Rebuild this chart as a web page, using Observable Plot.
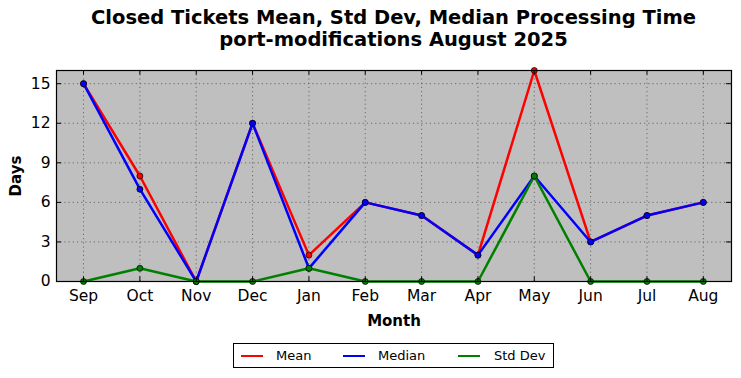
<!DOCTYPE html>
<html>
<head>
<meta charset="utf-8">
<script src="https://cdn.jsdelivr.net/npm/d3@7"></script>
<script src="https://cdn.jsdelivr.net/npm/@observablehq/plot@0.6"></script>
<style>
  body { margin: 0; background: white; font-family: "DejaVu Sans", sans-serif; }
  #wrap { position: relative; width: 741px; height: 378px; }
  #title { position: absolute; left: 56px; width: 675px; top: 7px; text-align: center;
           font-weight: bold; font-size: 19.5px; line-height: 22px; color: black; }
  #legend { position: absolute; left: 233px; top: 343px; width: 319px; height: 23px;
            border: 1px solid black; background: white; font-size: 13px; }
  .item { position: absolute; top: 0; height: 23px; line-height: 23px; }
  .swatch { position: absolute; top: 11px; width: 22px; height: 0; border-top: 2.5px solid; }
</style>
</head>
<body>
<div id="wrap">
  <div id="title">Closed Tickets Mean, Std Dev, Median Processing Time<br>port-modifications August 2025</div>
  <div id="chart"></div>
  <div id="legend"></div>
</div>
<script>
const months = ["Sep","Oct","Nov","Dec","Jan","Feb","Mar","Apr","May","Jun","Jul","Aug"];
const meanVals = [15, 8, 0, 12, 2, 6, 5, 2, 16, 3, 5, 6];
const medianVals = [15, 7, 0, 12, 1, 6, 5, 2, 8, 3, 5, 6];
const stdVals = [0, 1, 0, 0, 1, 0, 0, 0, 8, 0, 0, 0];
const yTicks = [0, 3, 6, 9, 12, 15];
const seriesNames = ["Mean", "Median", "Std Dev"];
const seriesColors = ["#ff0000", "#0000ff", "#008000"];

const idx = months.map((_, i) => i);
const seriesVals = [meanVals, medianVals, stdVals];
const rows = (k) => seriesVals[k].map((v, i) => ({i, v}));

const lineMarks = [];
seriesVals.forEach((_, k) => {
  lineMarks.push(Plot.line(rows(k), {x: "i", y: "v", stroke: seriesColors[k], strokeWidth: 2.5}));
  lineMarks.push(Plot.dot(rows(k), {x: "i", y: "v", r: 3, fill: seriesColors[k], stroke: "black", strokeWidth: 0.7}));
});

const chart = Plot.plot({
  width: 741, height: 378,
  marginTop: 70, marginBottom: 97, marginLeft: 56, marginRight: 10,
  style: {fontFamily: "DejaVu Sans", background: "transparent", color: "black"},
  x: {domain: [-0.48, 11.5], axis: null},
  y: {domain: [0, 16], axis: null},
  marks: [
    Plot.frame({fill: "#bfbfbf", stroke: "none"}),
    Plot.gridX(idx, {stroke: "#555", strokeOpacity: 1, strokeDasharray: "1.2,3", strokeWidth: 0.8}),
    Plot.gridY(yTicks, {stroke: "#555", strokeOpacity: 1, strokeDasharray: "1.2,3", strokeWidth: 0.8}),
    ...lineMarks,
    Plot.ruleX(idx, {y1: 0, y2: 0.35, stroke: "black"}),
    Plot.ruleX(idx, {y1: 15.65, y2: 16, stroke: "black"}),
    Plot.ruleY(yTicks, {x1: -0.48, x2: -0.39, stroke: "black"}),
    Plot.ruleY(yTicks, {x1: 11.41, x2: 11.5, stroke: "black"}),
    Plot.axisX(idx, {tickSize: 0, tickPadding: 8, tickFormat: i => months[i], fontSize: 15.5, label: null}),
    Plot.axisY(yTicks, {tickSize: 0, tickPadding: 6, fontSize: 15.5, label: null}),
    Plot.frame({stroke: "black", strokeWidth: 1.2}),
    Plot.text(["Month"], {frameAnchor: "bottom", dy: 44, text: d => d, fontWeight: "bold", fontSize: 15, textAnchor: "middle"}),
    Plot.text(["Days"], {frameAnchor: "left", dx: -40, rotate: -90, text: d => d, fontWeight: "bold", fontSize: 15, textAnchor: "middle", lineAnchor: "middle"})
  ]
});
document.getElementById("chart").appendChild(chart);

const legend = document.getElementById("legend");
const swatchX = [7, 109, 224];
const textX = [42, 144, 260];
seriesNames.forEach((name, k) => {
  const s = document.createElement("div");
  s.className = "swatch";
  s.style.left = swatchX[k] + "px";
  s.style.borderTopColor = seriesColors[k];
  legend.appendChild(s);
  const t = document.createElement("div");
  t.className = "item";
  t.style.left = textX[k] + "px";
  t.textContent = name;
  legend.appendChild(t);
});
</script>
</body>
</html>
